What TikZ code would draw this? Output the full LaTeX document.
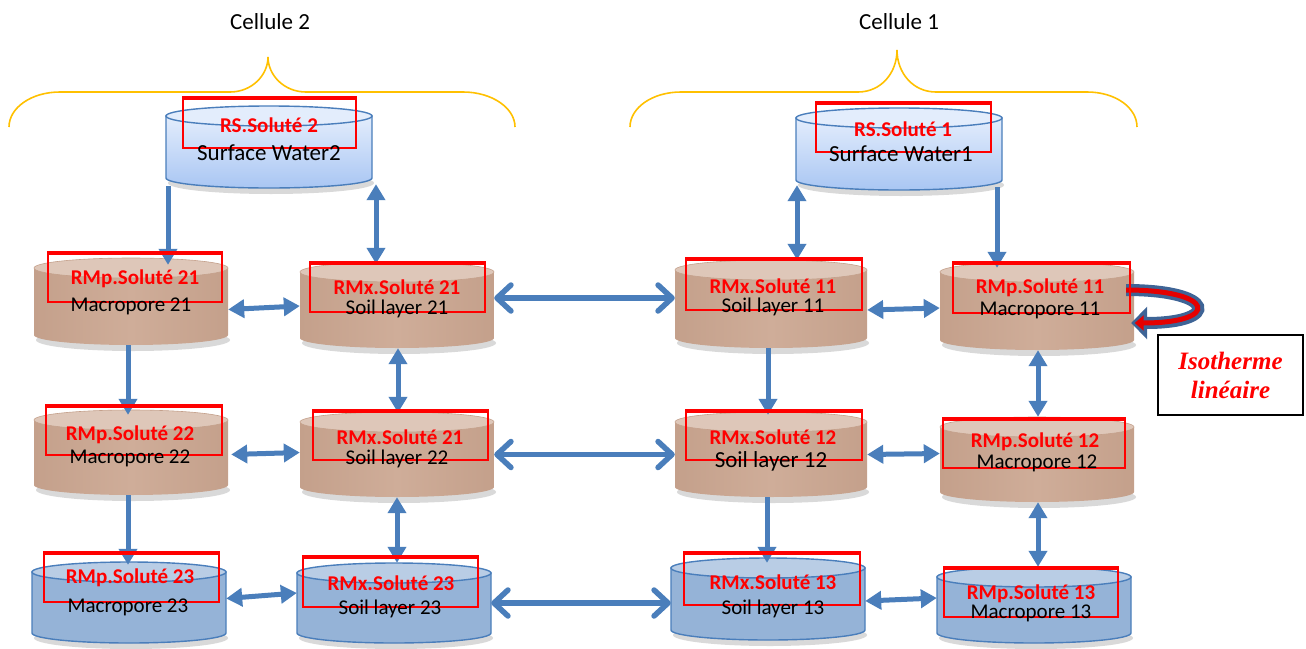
\documentclass[tikz,border=0pt]{standalone}
\usepackage{fontspec}
\setmainfont{Carlito}
\newfontfamily\timesf{Liberation Serif}
\usetikzlibrary{arrows.meta}
\definecolor{abl}{HTML}{4A7EBB}
\definecolor{brbody}{HTML}{CFAD99}
\definecolor{bredge}{HTML}{C4A08B}
\definecolor{brtop}{HTML}{DEC7B9}
\definecolor{blbody}{HTML}{95B3D7}
\definecolor{bltop}{HTML}{B9CDE5}
\definecolor{wtop}{HTML}{E3EDFC}
\definecolor{wbot}{HTML}{A9C6F3}
\definecolor{bracec}{HTML}{FFC000}
\definecolor{loopblue}{HTML}{3E6496}
\tikzset{
  brS/.style={left color=bredge, right color=bredge, middle color=brbody},
  brT/.style={fill=brtop, draw=bredge, line width=0.6pt},
  blS/.style={fill=blbody, draw=abl, line width=1.4pt},
  blT/.style={fill=bltop, draw=abl, line width=1.4pt},
  wS/.style={top color=wtop, bottom color=wbot, draw=abl, line width=1.4pt},
  wT/.style={fill=wtop, draw=abl, line width=1.4pt},
  redbox/.style={draw=red, line width=1.7pt, inner sep=0pt},
  title/.style={text=red, font=\fontsize{21}{25}\selectfont\bfseries, inner sep=0pt},
  lbl/.style={text=black, font=\fontsize{21}{25}\selectfont, inner sep=0pt},
  conn/.style={draw=abl, line width=5pt},
  both/.style={conn, {Triangle[width=18pt,length=16pt]}-{Triangle[width=18pt,length=16pt]}},
  one/.style={conn, -{Triangle[width=18pt,length=16pt]}},
  long/.style={conn, line width=5.5pt, {Straight Barb[round,width=26pt,length=14pt]}-{Straight Barb[round,width=26pt,length=14pt]}},
  bracestyle/.style={draw=bracec, line width=1.6pt},
  celltxt/.style={font=\fontsize{23}{27}\selectfont, inner sep=0pt}
}
% #1 name, #2 cx, #3 half width, #4 y top, #5 y bottom, #6 kind
\newcommand\cyl[6]{%
  \fill[black,opacity=0.15] (#2+2,#5+5) ellipse[x radius=#3, y radius=11];
  \path[#6S] (#2-#3,#4) -- (#2-#3,#5) arc[start angle=180,end angle=0,x radius=#3,y radius=10] -- (#2+#3,#4) -- cycle;
  \path[#6T] (#2,#4) ellipse[x radius=#3,y radius=10];
  \node[inner sep=0pt,minimum width={2*#3},minimum height={#5-#4+20}] (#1) at (#2,{(#4+#5)/2}) {};
}
% #1 name, #2 x1, #3 y1, #4 x2, #5 y2
\newcommand\rbox[5]{%
  \node[redbox, minimum width={#4-#2}, minimum height={#5-#3}] (#1) at ({(#2+#4)/2},{(#3+#5)/2}) {};
  \draw[red, line width=1.5pt] ([yshift=-3pt]#1.north west) -- ([yshift=-3pt]#1.north east);
}
\begin{document}
\begin{tikzpicture}[x=1pt,y=-1pt]
\useasboundingbox (0,0) rectangle (1306,648);

% braces
\draw[bracestyle] (9,127) .. controls (9,108) and (31,92) .. (60,92) -- (230,92)
  .. controls (252,92) and (268,75) .. (268,57)
  .. controls (268,75) and (284,92) .. (306,92) -- (463,92)
  .. controls (492,92) and (515,108) .. (515,127);
\draw[bracestyle] (630,127) .. controls (630,108) and (652,92) .. (681,92) -- (858,92)
  .. controls (881,92) and (897,73) .. (897,50)
  .. controls (897,73) and (913,92) .. (936,92) -- (1087,92)
  .. controls (1116,92) and (1137,108) .. (1137,127);
\node[celltxt] (cel2) at (270,22) {Cellule 2};
\node[celltxt] (cel1) at (899,22) {Cellule 1};

% cylinders
\cyl{sw2}{269}{103}{116}{178}{w}
\cyl{sw1}{899}{103}{118}{180}{w}
\cyl{mp21}{131}{97}{268}{335}{br}
\cyl{sx21}{397}{97}{272}{338}{br}
\cyl{sx11}{771}{96}{270}{338}{br}
\cyl{mp11}{1037}{97}{272}{340}{br}
\cyl{mp22}{131}{97}{420}{485}{br}
\cyl{sx22}{397}{97}{422}{487}{br}
\cyl{sx12}{771}{96}{422}{487}{br}
\cyl{mp12}{1037}{97}{427}{492}{br}
\cyl{mp23}{129}{97}{572}{633}{bl}
\cyl{sx23}{394}{97}{573}{633}{bl}
\cyl{sx13}{768}{97}{568}{630}{bl}
\cyl{mp13}{1034}{97}{577}{633}{bl}

% connectors
\draw[one] ([xshift=-101pt,yshift=2pt]sw2.south) -- ([xshift=37pt,yshift=-7pt]mp21.north);
\draw[both] ([xshift=-21pt,yshift=-2pt]sx21.north) -- ([xshift=107pt,yshift=4pt]sw2.south);
\draw[both] ([yshift=-8pt]mp21.east) -- ([yshift=-1pt]sx21.west);
\draw[long] ([yshift=7pt]sx21.east) -- ([yshift=6pt]sx11.west);
\draw[both] ([xshift=26pt]sx11.north) -- ([xshift=-102pt,yshift=5pt]sw1.south);
\draw[one] ([xshift=98pt,yshift=3pt]sw1.south) -- ([xshift=-40pt,yshift=-6pt]mp11.north);
\draw[both] ([yshift=-6pt]sx11.east) -- ([yshift=-2pt]mp11.west);
\draw[one] ([xshift=-3pt]mp21.south) -- ([xshift=-3pt,yshift=-5pt]mp22.north);
\draw[both] ([xshift=1pt]sx21.south) -- ([xshift=1pt,yshift=-1pt]sx22.north);
\draw[one] ([xshift=-3pt]sx11.south) -- ([xshift=-3pt,yshift=-3pt]sx12.north);
\draw[both] ([xshift=1pt]mp11.south) -- ([xshift=1pt]mp12.north);
\draw[both] ([xshift=3pt,yshift=-2pt]mp22.east) -- ([yshift=2pt]sx22.west);
\draw[long] (sx22.east) -- (sx12.west);
\draw[both] (sx12.east) -- ([yshift=6pt]mp12.west);
\draw[one] ([xshift=-3pt]mp22.south) -- ([xshift=-1pt,yshift=-3pt]mp23.north);
\draw[both] (sx22.south) -- ([xshift=3pt]sx23.north);
\draw[one] ([xshift=-4pt]sx12.south) -- ([xshift=-1pt,yshift=-5pt]sx13.north);
\draw[both] ([xshift=1pt]mp12.south) -- ([xshift=4pt]mp13.north);
\draw[both] ([yshift=4pt]mp23.east) -- ([yshift=10pt]sx23.west);
\draw[long] (sx23.east) -- ([yshift=-4pt]sx13.west);
\draw[both] ([yshift=-2pt]sx13.east) -- ([yshift=7pt]mp13.west);

% self loop (linear isotherm)
\draw[line width=12pt, loopblue, -{Triangle[width=32pt,length=16pt]}]
  ([xshift=-8pt,yshift=16pt]mp11.east) .. controls +(90,0) and +(90,0) .. ([xshift=-3pt,yshift=-17pt]mp11.east);
\draw[line width=5pt, red!90!black, -{Triangle[width=15pt,length=9pt]}, shorten >=3.5pt]
  ([xshift=-8pt,yshift=16pt]mp11.east) .. controls +(90,0) and +(90,0) .. ([xshift=-3pt,yshift=-17pt]mp11.east);
\node[draw, line width=1.2pt, minimum width=145pt, minimum height=80pt, inner sep=0pt, align=center,
  text=red, font=\timesf\fontsize{25}{29}\selectfont\bfseries\itshape] (iso) at (1230.5,375) {Isotherme\\linéaire};

% red boxes
\rbox{r2}{183}{97}{356}{148}
\rbox{r1}{816}{102}{991}{152}
\rbox{r21p}{48}{252}{222}{302}
\rbox{r21x}{310}{262}{485}{312}
\rbox{r11x}{686}{258}{862}{310}
\rbox{r11p}{953}{262}{1130}{313}
\rbox{r22p}{46}{405}{222}{455}
\rbox{r22x}{313}{410}{488}{460}
\rbox{r12x}{686}{410}{862}{460}
\rbox{r12p}{943}{418}{1125}{468}
\rbox{r23p}{44}{552}{219}{602}
\rbox{r23x}{303}{556}{478}{607}
\rbox{r13x}{684}{552}{860}{605}
\rbox{r13p}{944}{567}{1118}{617}

% texts
\node[title] (t2) at (269,125) {RS.Soluté 2};
\node[lbl, font=\fontsize{23}{27}\selectfont] (l2) at (269,153) {Surface Water2};
\node[title] (t1) at (903,129) {RS.Soluté 1};
\node[lbl, font=\fontsize{23}{27}\selectfont] (l1) at (901,154) {Surface Water1};
\node[title] (t21p) at (135,279) {RMp.Soluté 21};
\node[lbl] (l21p) at (131,306) {Macropore 21};
\node[title] (t21x) at (397,287) {RMx.Soluté 21};
\node[lbl] (l21x) at (397,309) {Soil layer 21};
\node[title] (t11x) at (773,286) {RMx.Soluté 11};
\node[lbl] (l11x) at (773,307) {Soil layer 11};
\node[title] (t11p) at (1040,288) {RMp.Soluté 11};
\node[lbl] (l11p) at (1040,310) {Macropore 11};
\node[title] (t22p) at (130,435) {RMp.Soluté 22};
\node[lbl] (l22p) at (130,458) {Macropore 22};
\node[title] (t22x) at (400,437) {RMx.Soluté 21};
\node[lbl] (l22x) at (397,459) {Soil layer 22};
\node[title] (t12x) at (773,437) {RMx.Soluté 12};
\node[lbl, font=\fontsize{23}{27}\selectfont] (l12x) at (771,461) {Soil layer 12};
\node[title] (t12p) at (1035,442) {RMp.Soluté 12};
\node[lbl] (l12p) at (1037,463) {Macropore 12};
\node[title] (t23p) at (130,578) {RMp.Soluté 23};
\node[lbl] (l23p) at (128,607) {Macropore 23};
\node[title] (t23x) at (391,583) {RMx.Soluté 23};
\node[lbl] (l23x) at (390,609) {Soil layer 23};
\node[title] (t13x) at (773,582) {RMx.Soluté 13};
\node[lbl] (l13x) at (773,609) {Soil layer 13};
\node[title] (t13p) at (1031,594) {RMp.Soluté 13};
\node[lbl] (l13p) at (1031,613) {Macropore 13};
\end{tikzpicture}
\end{document}
